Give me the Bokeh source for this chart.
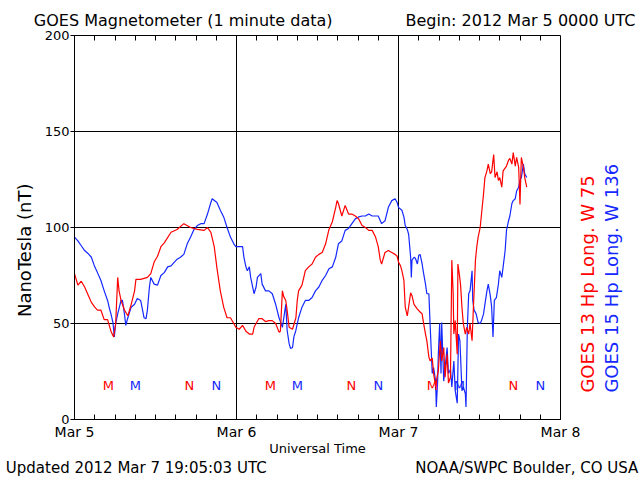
import math
from bokeh.plotting import figure
from bokeh.models import Range1d, FixedTicker, LinearAxis
from bokeh.core.properties import value
from bokeh.embed import file_html
from bokeh.resources import INLINE

# ---- data (hours since 2012 Mar 5 00:00 UTC, nT) ----
red_hours = [0.0, 0.5, 1.0, 1.5, 2.0, 2.5, 3.0, 3.4, 3.9, 4.4, 4.9, 5.4, 5.8, 6.1, 6.4, 6.6, 6.9, 7.4, 7.9, 8.4,
             8.9, 9.1, 9.8, 10.8, 11.3, 11.8, 12.3, 12.8, 13.3, 14.3, 15.2, 16.2, 17.2, 18.2, 19.2, 19.7, 20.2, 20.7, 21.1, 21.6,
             22.1, 22.6, 23.1, 23.6,
             23.9, 24.4, 24.9, 25.4, 25.9, 26.4, 26.6, 26.9, 27.3, 27.8, 28.3, 28.8, 29.3, 29.8, 30.3, 30.5, 30.8, 31.0, 31.3, 31.5,
             31.8, 32.3, 32.8, 33.0, 33.2, 33.7, 34.2, 34.7, 35.2, 35.7, 36.2, 36.7, 37.2, 37.7, 38.2, 38.7, 38.9, 39.1, 39.6, 40.1,
             40.6, 41.1, 41.6, 42.1, 42.6, 43.1, 43.6, 44.1, 44.6, 45.0, 45.3, 45.5, 46.0, 46.5, 47.0, 47.5,
             47.8, 48.0, 48.3, 48.5, 48.8, 49.0, 49.3, 49.5, 49.8, 50.0, 50.3, 50.8, 51.2, 51.5, 51.7, 52.0, 52.2, 52.5, 52.7, 53.0,
             53.2, 53.5, 53.7, 53.9, 54.2, 54.4, 54.7, 54.9, 55.2, 55.4, 55.7, 55.9, 56.1, 56.2, 56.4, 56.7, 56.8, 57.0, 57.2, 57.4,
             57.6, 57.9, 58.1, 58.4, 58.6, 58.9, 59.1, 59.4, 59.6, 59.8, 60.1, 60.3, 60.6, 60.8, 61.1, 61.3, 61.6, 61.8, 62.1, 62.3,
             62.6, 62.8, 63.0, 63.3, 63.5, 64.0, 64.3, 64.5, 64.8, 65.0, 65.3, 65.5, 65.8, 66.0, 66.1, 66.2, 66.5, 66.7, 67.0]
red_nt = [76, 70, 72, 69, 65, 61, 58.5, 57, 57, 52, 52, 46, 43, 50, 74, 67, 62, 57, 54, 60,
          67, 73, 73, 74, 76, 82, 85, 90, 92, 97.5, 99, 102, 100, 99, 98.5, 100, 97.5, 90, 79, 67,
          58.5, 53, 53, 50,
          48, 47, 49, 46, 44.5, 44.5, 48, 50, 52.5, 52.5, 51, 51.5, 51.5, 50, 45.5, 46, 67, 64, 62, 57,
          48, 47, 53, 62, 67, 70, 77.5, 79.5, 81, 84.5, 86, 87, 91.5, 99, 103, 110.5, 114, 112.5, 106, 111.5,
          107, 107, 106, 104.5, 101, 100, 98.5, 98.5, 95, 90, 83, 81, 87, 88, 87, 86,
          85, 82, 80, 77.5, 72.5, 58.5, 54, 58.5, 66, 64.5, 60, 57.5, 56, 55, 50.5, 44.5, 41, 32.5, 30.5, 32,
          24, 17, 22, 25.5, 41, 30.5, 37.5, 22, 34, 19, 22, 83, 65.5, 44.5, 51.5, 34, 81, 76, 70, 58.5,
          50, 44.5, 48, 44.5, 50, 41, 58.5, 83, 90, 95, 100, 107, 117.5, 126, 129.5, 133, 128, 129, 138, 126,
          129, 124.5, 126, 121, 129.5, 132, 135, 136, 133, 139, 132, 136.5, 131.5, 112, 125, 136.5, 131.5, 126, 121]

blue_hours = [0.0, 0.5, 1.0, 1.5, 2.0, 2.5, 3.0, 3.4, 3.9, 4.4, 4.9, 5.2, 5.4, 5.7, 5.9, 6.1, 6.4, 6.9, 7.1, 7.4,
              7.6, 7.9, 8.4, 8.9, 9.3, 9.8, 10.3, 10.6, 10.8, 11.1, 11.3, 11.8, 12.3, 12.8, 13.3, 13.8, 14.3, 14.8, 15.2, 15.7,
              16.2, 16.7, 17.2, 17.7, 18.2, 18.7, 19.2, 19.7, 20.2, 20.4, 21.1, 21.6, 22.1, 22.6, 23.1, 23.6,
              23.9, 24.4, 24.9, 25.1, 25.4, 25.6, 25.9, 26.1, 26.4, 26.6, 26.9, 27.1, 27.6, 27.8, 28.3, 28.8, 29.3, 29.8, 30.3, 30.8,
              31.3, 31.5, 31.8, 32.0, 32.3, 32.5, 32.8, 33.2, 33.7, 34.2, 34.7, 35.2, 35.7, 36.2, 36.7, 37.2, 37.7, 38.2, 38.7, 39.1,
              39.6, 40.1, 40.6, 41.1, 41.6, 42.1, 42.6, 43.1, 43.6, 44.1, 44.6, 45.0, 45.5, 46.0, 46.5, 47.0, 47.5,
              47.8, 48.0, 48.5, 48.8, 49.0, 49.3, 49.5, 49.8, 49.9, 50.0, 50.3, 50.5, 50.8, 51.0, 51.2, 51.5, 51.7, 52.0, 52.2, 52.5,
              52.7, 53.0, 53.2, 53.5, 53.6, 53.8, 53.9, 54.1, 54.3, 54.4, 54.7, 54.9, 55.2, 55.4, 55.7, 55.9, 56.2, 56.4, 56.7, 56.9,
              57.1, 57.4, 57.6, 57.9, 58.0, 58.2, 58.4, 58.6, 58.9, 59.0, 59.2, 59.5, 59.8, 60.1, 60.3, 60.6, 60.8, 61.1, 61.3, 61.6,
              61.8, 62.0, 62.2, 62.5, 62.8, 63.0, 63.3, 63.5, 63.8, 64.0, 64.3, 64.5, 64.8, 65.0, 65.3, 65.5, 65.8, 66.0, 66.2, 66.5,
              66.7, 67.0]
blue_nt = [95, 93, 90.5, 88, 86.5, 84.5, 79.5, 76.5, 72.5, 67, 62, 57.5, 55, 50.5, 43, 50, 55, 62, 62, 55,
           49, 53, 58.5, 60, 63, 62, 53, 52.5, 57, 69, 74, 70.5, 70, 75, 76.5, 79.5, 80, 82, 83.5, 84.5,
           86, 91.5, 95, 99, 101, 102, 102, 107, 113, 115, 113, 109, 105.5, 100, 95, 91.5,
           90, 90, 90, 84.5, 79.5, 77.5, 79.5, 74, 69, 65.5, 69, 74, 76, 70.5, 67, 67, 65.5, 60, 53, 48,
           60, 46.5, 39.5, 37, 37.5, 43, 46.5, 53, 58.5, 62, 62, 63.5, 67, 69, 72.5, 75, 78.5, 79.5, 84.5, 91.5,
           93, 98.5, 99.5, 102, 104.5, 105.5, 106, 106, 107, 106, 106, 106, 102, 103.5, 110.5, 114, 115,
           113, 110.5, 109, 105.5, 101, 99, 96.5, 84.5, 74, 83, 84.5, 84, 81, 85.5, 86, 81, 76.5, 70.5, 65.5, 65.5,
           48, 24, 27, 20, 6.5, 20, 34, 50, 24, 50.5, 20, 27, 37.5, 24, 26, 17, 30.5, 15, 8.5, 44.5,
           41, 15, 17, 13.5, 6.5, 48, 65.5, 67, 77.5, 62, 57, 55, 50.5, 50, 51.5, 55, 60, 67, 70.5, 64.5,
           58.5, 43, 62, 63.5, 70.5, 77.5, 74, 79.5, 88, 98.5, 103.5, 106, 112.5, 114, 115, 119, 121, 124.5, 126, 133,
           128, 126]

# local midnight (M) / noon (N) markers
red_mark_hours = [5, 17, 29, 41, 53, 65]
blue_mark_hours = [9, 21, 33, 45, 57, 69]
mark_text = ["M", "N", "M", "N", "M", "N"]
mark_level = 17.7

day_ticks = [0, 24, 48, 72]
day_labels = ["Mar 5", "Mar 6", "Mar 7", "Mar 8"]
minor_hours = [3, 6, 9, 12, 15, 18, 21, 24, 27, 30, 33, 36, 39, 42, 45, 48, 51, 54, 57, 60, 63, 66, 69]
y_ticks = [0, 50, 100, 150, 200]
y_grid = [50, 100, 150]

title_text = "GOES Magnetometer (1 minute data)"
begin_text = "Begin:  2012 Mar 5 0000 UTC"
updated_text = "Updated 2012 Mar  7 19:05:03 UTC"
credit_text = "NOAA/SWPC Boulder, CO USA"
ylabel_text = "NanoTesla (nT)"
xlabel_text = "Universal Time"
red_name = "GOES 13 Hp  Long. W 75"
blue_name = "GOES 15 Hp  Long. W 136"

assert len(red_hours) == len(red_nt)
assert len(blue_hours) == len(blue_nt)

RED = "#ff0000"
BLUE = "#1428ff"
FONT = "DejaVu Sans"

p = figure(width=640, height=480, output_backend="svg", toolbar_location=None, title=None,
           x_range=Range1d(0, 72), y_range=Range1d(0, 200),
           min_border_left=72, min_border_right=80, min_border_top=35, min_border_bottom=61,
           background_fill_color="white", border_fill_color="white")
p.outline_line_color = "black"
p.outline_line_width = 1
p.outline_line_alpha = 1

# ---- primary y axis ----
ya = p.yaxis[0]
ya.ticker = FixedTicker(ticks=y_ticks)
ya.major_tick_out = 4
ya.major_tick_in = 0
ya.minor_tick_line_color = None
ya.major_label_standoff = 1
ya.major_label_text_font = FONT
ya.major_label_text_font_size = "13px"
ya.major_label_text_color = "black"
ya.axis_line_color = "black"

# ---- primary x axis ----
xa = p.xaxis[0]
xa.ticker = FixedTicker(ticks=day_ticks, minor_ticks=minor_hours)
xa.major_tick_in = 5
xa.major_tick_out = 0
xa.minor_tick_in = 5
xa.minor_tick_out = 0
xa.major_label_overrides = {t: l for t, l in zip(day_ticks, day_labels)}
xa.major_label_standoff = 4
xa.major_label_text_font = FONT
xa.major_label_text_font_size = "14px"
xa.major_label_text_color = "black"
xa.axis_line_color = "black"
xa.axis_label = xlabel_text
xa.axis_label_standoff = -2
xa.axis_label_text_font = FONT
xa.axis_label_text_font_size = "13px"
xa.axis_label_text_font_style = "normal"
xa.axis_label_text_color = "black"


def text_axis(pos, tick, label, color="black", size="15px", standoff=0, orientation="horizontal",
              minor=None, minor_len=0):
    ax = LinearAxis(ticker=FixedTicker(ticks=list(tick), minor_ticks=minor or []),
                    major_label_overrides={t: l for t, l in zip(tick, label)},
                    major_tick_in=0, major_tick_out=0,
                    minor_tick_in=minor_len, minor_tick_out=0,
                    major_label_standoff=standoff,
                    major_label_orientation=orientation,
                    major_label_text_font=FONT, major_label_text_font_size=size,
                    major_label_text_color=color,
                    axis_line_color=None)
    if minor_len == 0:
        ax.minor_tick_line_color = None
    p.add_layout(ax, pos)
    return ax


# top: inward 3-hour ticks plus header texts
text_axis("above", [16.1, 66.6], [title_text, begin_text], size="16px", standoff=6,
          minor=minor_hours, minor_len=5)
# bottom footer texts
text_axis("below", [9.5, 67], [updated_text, credit_text], size="15px", standoff=0)
# left title
text_axis("left", [122.9], [ylabel_text], size="18px", standoff=17, orientation=math.pi / 2)
# right rotated series names
text_axis("right", [14], [red_name], color=RED, size="18px", standoff=27, orientation=math.pi / 2)
text_axis("right", [14], [blue_name], color=BLUE, size="18px", standoff=0, orientation=math.pi / 2)

# grid
p.xgrid.ticker = FixedTicker(ticks=[24, 48])
p.ygrid.ticker = FixedTicker(ticks=y_grid)
for g in (p.xgrid, p.ygrid):
    g.grid_line_color = "black"
    g.grid_line_alpha = 1
    g.grid_line_width = 1

# data lines
p.line(blue_hours, blue_nt, line_color=BLUE, line_width=1.2)
p.line(red_hours, red_nt, line_color=RED, line_width=1.2)

# M / N markers
p.text(x=red_mark_hours, y=[mark_level] * 6, text=mark_text, text_color=RED,
       text_font=value(FONT), text_font_size="13px", text_align="center", text_baseline="middle")
p.text(x=blue_mark_hours, y=[mark_level] * 6, text=mark_text, text_color=BLUE,
       text_font=value(FONT), text_font_size="13px", text_align="center", text_baseline="middle")

open("out.html", "w").write(file_html(p, INLINE))
